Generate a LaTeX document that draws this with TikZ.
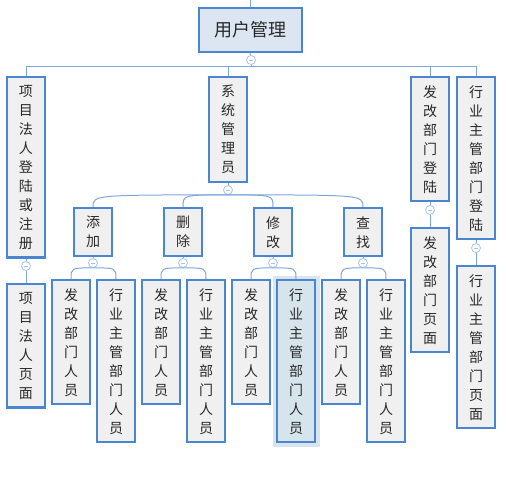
\documentclass[tikz,border=0pt]{standalone}
\usepackage{fontspec}
\newfontfamily\cjk{Noto Sans CJK SC}
\definecolor{boxblue}{RGB}{74,134,208}
\definecolor{boxgray}{RGB}{240,240,240}
\definecolor{rootfill}{RGB}{220,230,242}
\definecolor{linkblue}{RGB}{125,166,220}
\definecolor{toggleblue}{RGB}{168,194,232}
\definecolor{pickfill}{RGB}{214,228,236}
\definecolor{glowblue}{RGB}{190,212,232}
\definecolor{textgray}{RGB}{40,40,40}
\tikzset{
    vbox/.style={draw=boxblue,line width=2.5pt,fill=boxgray,minimum width=38pt,
        inner xsep=0pt,inner ysep=8pt,align=center,anchor=north,text=textgray,
        font=\cjk\fontsize{14}{19}\selectfont},
    picked/.style={vbox,fill=pickfill,
        preaction={draw=glowblue,line width=9pt,rounded corners=3pt,opacity=0.6}},
    link/.style={draw=linkblue,line width=1pt},
    toggle/.style={circle,draw=toggleblue,fill=white,line width=0.8pt,
        minimum size=9pt,inner sep=0pt,
        path picture={\draw[toggleblue,line width=0.8pt]
            ([xshift=-2.2pt]path picture bounding box.center) -- ([xshift=2.2pt]path picture bounding box.center);}}
}
\begin{document}
\begin{tikzpicture}[x=1pt,y=-1pt]
    \useasboundingbox (0,0) rectangle (506,486);

    % root
    \coordinate (top) at (250,0);
    \node[draw=boxblue,line width=2pt,fill=rootfill,minimum width=103pt,minimum height=44pt,
        text=textgray,font=\cjk\fontsize{18}{22}\selectfont] (root) at (250,30) {用户管理};
    \draw[link] (top) -- (root.north);
    \node[toggle] (t0) at (251,60) {};
    \draw[link] (root.south) -- (t0);

    % first level
    \node[vbox] (xmfr) at (26,76) {项\\目\\法\\人\\登\\陆\\或\\注\\册};
    \node[vbox] (xtgl) at (228,76) {系\\统\\管\\理\\员};
    \node[vbox] (fgdl) at (430,76) {发\\改\\部\\门\\登\\陆};
    \node[vbox] (hydl) at (476,76) {行\\业\\主\\管\\部\\门\\登\\陆};
    \foreach \c in {xmfr,xtgl,fgdl,hydl}
        \draw[link] (t0.south) -- ++(0,1.5) -| (\c.north);

    % pages
    \node[toggle] (t1) at (26,266) {};
    \node[vbox] (xmym) at (26,283) {项\\目\\法\\人\\页\\面};
    \draw[link] (xmfr.south) -- (t1);
    \draw[link] (t1) -- (xmym.north);

    \node[toggle] (t3) at (430,210) {};
    \node[vbox] (fgym) at (430,227) {发\\改\\部\\门\\页\\面};
    \draw[link] (fgdl.south) -- (t3);
    \draw[link] (t3) -- (fgym.north);

    \node[toggle] (t4) at (476,248) {};
    \node[vbox] (hyym) at (476,265) {行\\业\\主\\管\\部\\门\\页\\面};
    \draw[link] (hydl.south) -- (t4);
    \draw[link] (t4) -- (hyym.north);

    % operations
    \node[toggle] (t2) at (228,190) {};
    \draw[link] (xtgl.south) -- (t2);
    \foreach \op/\x/\txt in {tj/93/添\\加, sc/183/删\\除, xg/273/修\\改, cz/363/查\\找} {
        \node[vbox] (\op) at (\x,207) {\txt};
        \draw[link] (t2.south) .. controls (t2.south -| \op.north) .. (\op.north);
        \node[toggle] (t\op) at (\x,263) {};
        \draw[link] (\op.south) -- (t\op);
    }

    % staff
    \foreach \op/\x in {tj/93, sc/183, xg/273, cz/363} {
        \node[vbox] (\op fg) at (\x-22,279) {发\\改\\部\\门\\人\\员};
        \draw[link] (t\op.south) .. controls (t\op.south -| \op fg.north) .. (\op fg.north);
    }
    \foreach \op/\x in {tj/93, sc/183, cz/363} {
        \node[vbox] (\op hy) at (\x+23,279) {行\\业\\主\\管\\部\\门\\人\\员};
        \draw[link] (t\op.south) .. controls (t\op.south -| \op hy.north) .. (\op hy.north);
    }
    \node[picked] (xghy) at (296,279) {行\\业\\主\\管\\部\\门\\人\\员};
    \draw[link] (txg.south) .. controls (txg.south -| xghy.north) .. (xghy.north);
\end{tikzpicture}
\end{document}
